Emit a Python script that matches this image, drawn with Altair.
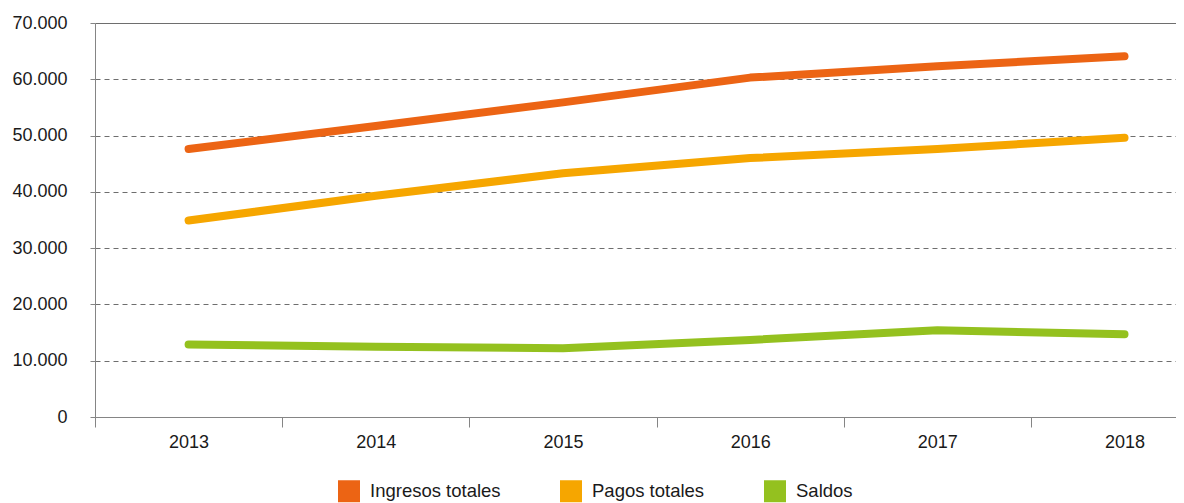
import altair as alt
import pandas as pd

years = [2013, 2014, 2015, 2016, 2017, 2018]
ingresos = [47600, 51700, 55900, 60300, 62300, 64100]
pagos = [34900, 39300, 43300, 46000, 47600, 49600]
saldos = [12900, 12500, 12200, 13700, 15400, 14700]
series_names = ["Ingresos totales", "Pagos totales", "Saldos"]
series_colors = ["#EC6414", "#F6A600", "#94C11F"]
y_ticks = [0, 10000, 20000, 30000, 40000, 50000, 60000, 70000]
x_boundaries = [2012.5, 2013.5, 2014.5, 2015.5, 2016.5, 2017.5]

rows = []
for name, vals in zip(series_names, [ingresos, pagos, saldos]):
    for y, v in zip(years, vals):
        rows.append({"year": y, "value": v, "serie": name})
df = pd.DataFrame(rows)

FONT = "Liberation Sans"
AXIS_COLOR = "#858585"

chart = alt.Chart(df).mark_line(strokeWidth=8, strokeCap="round", strokeJoin="round").encode(
    x=alt.X(
        "year:Q",
        scale=alt.Scale(domain=[2012.5, 2018.275], nice=False, zero=False),
        axis=alt.Axis(
            values=sorted(years + x_boundaries),
            labelExpr="datum.value % 1 == 0 ? '' + datum.value : ''",
            tickOpacity={"condition": {"test": "datum.value % 1 == 0", "value": 0}, "value": 1},
            grid=False,
            tickSize=10,
            tickColor=AXIS_COLOR,
            domainColor=AXIS_COLOR,
            labelPadding=6,
            labelFontSize=18,
            labelColor="#1a1a1a",
            labelFont=FONT,
            labelOverlap=False,
            labelBound=False,
            labelFlush=False,
            title=None,
        ),
    ),
    y=alt.Y(
        "value:Q",
        scale=alt.Scale(domain=[0, 70000], nice=False),
        axis=alt.Axis(
            values=y_ticks,
            labelExpr="replace(format(datum.value, ','), ',', '.')",
            grid=True,
            gridColor="#6e6e6e",
            gridWidth=1,
            gridDash={"condition": {"test": "datum.value == 70000", "value": []}, "value": [5, 4]},
            tickSize=5,
            tickColor=AXIS_COLOR,
            domainColor=AXIS_COLOR,
            labelPadding=23,
            labelFontSize=18,
            labelColor="#1a1a1a",
            labelFont=FONT,
            title=None,
        ),
    ),
    color=alt.Color(
        "serie:N",
        scale=alt.Scale(domain=series_names, range=series_colors),
        legend=alt.Legend(
            orient="none",
            legendX=243,
            legendY=457,
            direction="horizontal",
            title=None,
            symbolType="square",
            symbolSize=121,
            symbolStrokeWidth=11,
            labelFontSize=18.5,
            labelFont=FONT,
            labelColor="#1a1a1a",
            labelOffset=10,
            columnPadding=42,
            padding=0,
        ),
    ),
).properties(
    width=1081,
    height=394,
    autosize=alt.AutoSizeParams(type="none"),
    padding={"left": 87, "top": 15, "right": 0, "bottom": 86},
).configure_view(stroke=None).configure(font=FONT, background="white")

chart.save("out.html", embed_options={"renderer": "svg", "actions": False})
